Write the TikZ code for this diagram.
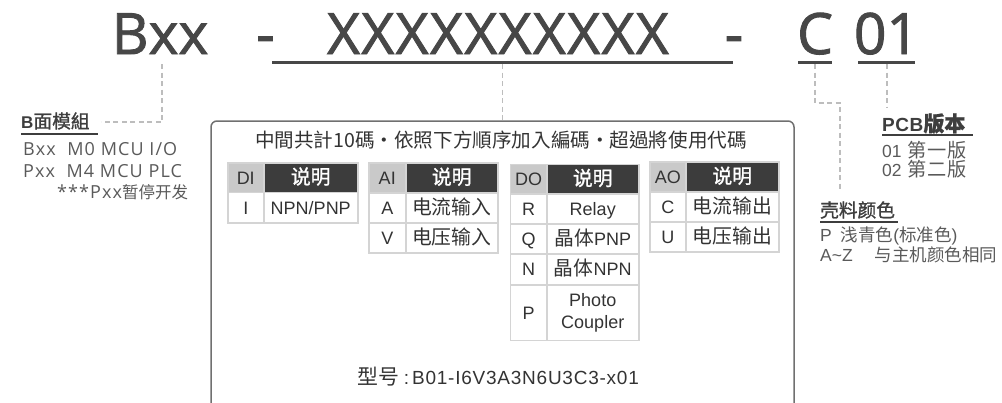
\documentclass[tikz,border=0pt]{standalone}
\usepackage{fontspec}
\setmainfont{Liberation Sans}
\newfontfamily\osf{Open Sans}
\newfontfamily\ost[FakeBold=1.6]{Open Sans}
\newfontfamily\cjksc[Scale=1.1]{Noto Sans CJK SC}
\newfontfamily\cjkn{Noto Sans CJK SC}
\newfontfamily\cjkm[Scale=1.1,FakeBold=1.2]{Noto Sans CJK SC}
\newfontfamily\cjkmt[Scale=1.1,FakeBold=1.2]{Noto Sans CJK TC}
\newfontfamily\cjktc[Scale=1.1]{Noto Sans CJK TC}
\newcommand\zh[1]{{\cjksc #1}}
\newcommand\zn[1]{{\cjkn #1}}
\newcommand\zm[1]{{\cjkm #1}}
\newcommand\px[1]{\fontsize{#1}{#1}\selectfont}
\definecolor{ttlc}{HTML}{474747}
\definecolor{headc}{HTML}{3E3E3E}
\definecolor{bodyc}{HTML}{5A5A5A}
\definecolor{cellc}{HTML}{333333}
\definecolor{hlc}{HTML}{C9C9C9}
\definecolor{hdc}{HTML}{3C3C3C}
\definecolor{gridc}{HTML}{D4D4D4}
\definecolor{dashc}{HTML}{BDBDBD}
\definecolor{framec}{HTML}{707070}
\begin{document}
\begin{tikzpicture}[x=1pt,y=-1pt,
  ttl/.style={font=\ost\px{57}, text=ttlc, inner sep=0pt, anchor=base},
  uline/.style={draw=ttlc, line width=3pt},
  conn/.style={draw=dashc, line width=1.1pt, dash pattern=on 5pt off 3.5pt},
  head/.style={font=\px{17}, text=headc, inner sep=0pt, anchor=west},
  hline/.style={draw=headc, line width=2pt},
  body/.style={font=\osf\addfontfeature{LetterSpace=6}\px{18}, text=bodyc, inner sep=0pt, anchor=base west},
  rbody/.style={font=\px{17.5}, text=bodyc, inner sep=0pt, anchor=west},
  cell/.style={draw=gridc, line width=1.5pt, inner sep=0pt, anchor=north west,
    text height=13pt, text depth=0pt, font=\px{18}, text=cellc},
  hl/.style={cell, fill=hlc},
  hd/.style={cell, fill=hdc, text=white},
  frame/.style={draw=framec, line width=1.5pt, rounded corners=6pt}]
\useasboundingbox (0,0) rectangle (1002,402);
\clip (0,0) rectangle (1002,402);

% ---- title ----
\node[ttl] (tB) at (160,54) {Bxx};
\node[ttl] (tH1) at (265.5,54) {-};
\node[ttl] (tX) at (498,54) {\addfontfeature{LetterSpace=2.5}XXXXXXXXXX};
\node[ttl] (tH2) at (734,54) {-};
\node[ttl] (tC) at (815,54) {C};
\node[ttl] (t01) at (886.5,54) {01};
\draw[uline] (272,62) -- (733,62);
\draw[uline] (798,62) -- (832,62);
\draw[uline] (858,62) -- (915,62);

% ---- centre box ----
\draw[frame] (211,121) rectangle (794,430);

% ---- left label ----
\node[head] (lB) at (21,121) {{\bfseries B}{\cjkmt 面模組}};
\draw[hline] (21,133.5) -- (98,133.5);
\node[body] (l1) at (23,155) {Bxx\ \ M0 MCU I/O};
\node[body] (l2) at (23,177.5) {Pxx\ \ M4 MCU PLC};
\node[body] (l3) at (57,198.5) {***Pxx{\px{16.5}\zn{暂停开发}}};

% ---- right labels ----
\node[head, font=\bfseries\px{19}] (rP) at (882,123.5) {{\addfontfeature{LetterSpace=3}PCB}\zm{版本}};
\draw[hline] (882,135) -- (973,135);
\node[rbody] (r1) at (882,150) {01\hspace{6pt}\zh{\addfontfeature{LetterSpace=3}第一版}};
\node[rbody] (r2) at (882,169) {02\hspace{6pt}\zh{\addfontfeature{LetterSpace=3}第二版}};
\node[head] (rK) at (820,210) {\zm{壳料颜色}};
\draw[hline] (820,221.5) -- (898,221.5);
\node[rbody] (r3) at (820,236) {P\hspace{9pt}\zn{浅青色}(\zn{标准色})};
\node[rbody] (r4) at (820,255) {A\textasciitilde Z\hspace{22pt}\zn{与主机颜色相同}};

% ---- connectors ----
\coordinate (cB) at (162,64);
\coordinate (cBend) at (101,122);
\coordinate (cX) at (502.5,64);
\coordinate (cXend) at (502.5,121);
\coordinate (cC) at (815,64);
\coordinate (cCk) at (840,103);
\coordinate (cCend) at (840,190);
\coordinate (c01) at (887,64);
\coordinate (c01end) at (887,108);
\draw[conn] (cB) |- (cBend);
\draw[conn] (cX) -- (cXend);
\draw[conn] (cC) |- (cCk) -- (cCend);
\draw[conn] (c01) -- (c01end);

% ---- header line ----
\node[font=\px{17.8}, text=cellc, inner sep=0pt] (hdr) at (501,140)
  {\cjktc 中間共計10碼・依照下方順序加入編碼・超過將使用代碼};

% ---- DI table ----
\node[hl, minimum width=36pt, minimum height=29.5pt] (di0) at (227,162) {DI};
\node[hd, minimum width=94pt, minimum height=29.5pt] (di1) at (263,162) {\zm{说明}};
\node[cell, minimum width=36pt, minimum height=30.5pt] (di2) at (227,191.5) {I};
\node[cell, minimum width=94pt, minimum height=30.5pt] (di3) at (263,191.5) {NPN/PNP};

% ---- AI table ----
\node[hl, minimum width=37pt, minimum height=30pt] (ai0) at (368,162) {AI};
\node[hd, minimum width=92pt, minimum height=30pt] (ai1) at (405,162) {\zm{说明}};
\node[cell, minimum width=37pt, minimum height=30pt] (ai2) at (368,192) {A};
\node[cell, minimum width=92pt, minimum height=30pt] (ai3) at (405,192) {\zh{电流输入}};
\node[cell, minimum width=37pt, minimum height=30pt] (ai4) at (368,222) {V};
\node[cell, minimum width=92pt, minimum height=30pt] (ai5) at (405,222) {\zh{电压输入}};

% ---- DO table ----
\node[hl, minimum width=36.5pt, minimum height=29.5pt] (do0) at (509.5,163.5) {DO};
\node[hd, minimum width=92pt, minimum height=29.5pt] (do1) at (546,163.5) {\zm{说明}};
\node[cell, minimum width=36.5pt, minimum height=30pt] (do2) at (509.5,193) {R};
\node[cell, minimum width=92pt, minimum height=30pt] (do3) at (546,193) {Relay};
\node[cell, minimum width=36.5pt, minimum height=30pt] (do4) at (509.5,223) {Q};
\node[cell, minimum width=92pt, minimum height=30pt] (do5) at (546,223) {\zh{晶体}PNP};
\node[cell, minimum width=36.5pt, minimum height=31pt] (do6) at (509.5,253) {N};
\node[cell, minimum width=92pt, minimum height=31pt] (do7) at (546,253) {\zh{晶体}NPN};
\node[cell, minimum width=36.5pt, minimum height=55.5pt] (do8) at (509.5,284) {P};
\node[cell, minimum width=92pt, minimum height=55.5pt] (do9) at (546,284) {};
\node[font=\fontsize{18}{21.7}\selectfont, text=cellc, inner sep=0pt, align=center] (do9t) at (do9.center) {Photo\\Coupler};

% ---- AO table ----
\node[hl, minimum width=36pt, minimum height=30pt] (ao0) at (649,161) {AO};
\node[hd, minimum width=93pt, minimum height=30pt] (ao1) at (685,161) {\zm{说明}};
\node[cell, minimum width=36pt, minimum height=30pt] (ao2) at (649,191) {C};
\node[cell, minimum width=93pt, minimum height=30pt] (ao3) at (685,191) {\zh{电流输出}};
\node[cell, minimum width=36pt, minimum height=30pt] (ao4) at (649,221) {U};
\node[cell, minimum width=93pt, minimum height=30pt] (ao5) at (685,221) {\zh{电压输出}};

% ---- model line ----
\node[font=\px{19}, text=cellc, inner sep=0pt] (model) at (498,377)
  {\zh{型号}\hspace{5pt}:\hspace{3pt}{\addfontfeature{LetterSpace=4}B01-I6V3A3N6U3C3-x01}};
\end{tikzpicture}
\end{document}
